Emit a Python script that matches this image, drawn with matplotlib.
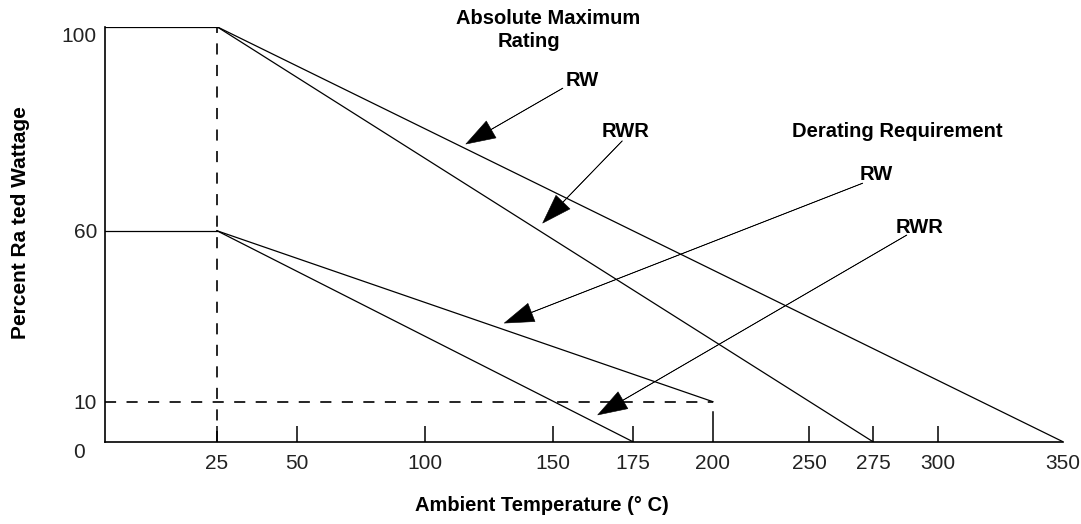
import numpy as np
import matplotlib
matplotlib.use("Agg")
import matplotlib.pyplot as plt

# derating curves (temperature in deg C, percent of rated wattage)
flat_x = [0, 25]
abs_level = [100, 100]
der_level = [60, 60]

abs_rw_x = [25, 350]
abs_rw_y = [100, 0]
abs_rwr_x = [25, 275]
abs_rwr_y = [100, 0]

der_rw_x = [25, 200]
der_rw_y = [60, 10]
der_rwr_x = [25, 175]
der_rwr_y = [60, 0]

guide_v_x = [25, 25]
guide_v_y = [0, 100]
guide_h_x = [0, 200]
guide_h_y = [10, 10]
drop_x = [200, 200]
drop_y = [0, 7.5]

x_ticks = [25, 50, 100, 150, 175, 200, 250, 275, 300, 350]
y_ticks = [10, 60, 100]

# arrow tips for the RW / RWR callouts
tips = [(116, 77), (146, 61.5), (131, 33), (164, 6.7)]

# the drawing's axes are not evenly spaced, so use a piecewise scale
x_knots = [0, 25, 50, 100, 150, 175, 200, 250, 275, 300, 350]
x_frac = [0, 0.1169, 0.2004, 0.3340, 0.4676, 0.5511, 0.6347, 0.7349, 0.8017, 0.8695, 1.0]
y_knots = [0, 10, 60, 100]
y_frac = [0, 0.0964, 0.5084, 1.0]


def piecewise(knots, frac):
    fwd = lambda v: np.interp(v, knots, frac)
    inv = lambda v: np.interp(v, frac, knots)
    return fwd, inv


plt.rcParams["font.family"] = ["Liberation Sans", "DejaVu Sans"]
plt.rcParams["lines.scale_dashes"] = False

fig = plt.figure(figsize=(10.81, 5.24), dpi=100)
ax = fig.add_axes([0.0971, 0.157, 0.8862, 0.792])
ax.set_xscale("function", functions=piecewise(x_knots, x_frac))
ax.set_yscale("function", functions=piecewise(y_knots, y_frac))
ax.set_xlim(0, 350)
ax.set_ylim(0, 100)

lw = 0.9
ax.plot(flat_x, abs_level, color="black", lw=lw)
ax.plot(flat_x, der_level, color="black", lw=lw)
ax.plot(abs_rw_x, abs_rw_y, color="black", lw=lw)
ax.plot(abs_rwr_x, abs_rwr_y, color="black", lw=lw)
ax.plot(der_rw_x, der_rw_y, color="black", lw=lw)
ax.plot(der_rwr_x, der_rwr_y, color="black", lw=lw)
ax.plot(guide_v_x, guide_v_y, color="black", lw=1.2, dashes=(8, 7.5))
ax.plot(guide_h_x, guide_h_y, color="black", lw=1.2, dashes=(8, 7.5))
ax.plot(drop_x, drop_y, color="black", lw=1.1)

for s in ["top", "right"]:
    ax.spines[s].set_visible(False)
for s in ["left", "bottom"]:
    ax.spines[s].set_linewidth(1.2)

ax.set_xticks(x_ticks)
ax.set_xticklabels([str(t) for t in x_ticks])
ax.set_yticks(y_ticks)
ax.set_yticklabels([str(t) for t in y_ticks])
ax.minorticks_off()
ax.tick_params(axis="x", direction="in", length=11.5, width=1.1, pad=8.5, labelsize=15,
               labelcolor="#222222")
ax.tick_params(axis="y", length=0, pad=5.8, labelsize=15, labelcolor="#222222")
for t, v in zip(ax.xaxis.get_major_ticks(), x_ticks):
    if v in (200, 350):
        t.tick1line.set_visible(False)
ax.get_yticklabels()[-1].set_va("top")
ax.text(-0.027, -0.027, "0", transform=ax.transAxes, ha="center", va="center",
        fontsize=15, color="#222222")

bold = dict(fontsize=14.5, fontweight="bold", transform=ax.transAxes, va="baseline")
ax.text(0.4624, 1.0077, "Absolute Maximum", ha="center", **bold)
ax.text(0.4102, 0.951, "Rating", ha="left", **bold)
ax.text(0.8267, 0.734, "Derating Requirement", ha="center", **bold)

labels = ["RW", "RWR", "RW", "RWR"]
label_pos = [(0.4812, 0.857), (0.5188, 0.734), (0.7881, 0.6306), (0.8257, 0.5029)]
tails = [(0.478, 0.852), (0.540, 0.725), (0.791, 0.623), (0.837, 0.498)]
for name, lp, tail, tip in zip(labels, label_pos, tails, tips):
    ax.text(lp[0], lp[1], name, ha="left", **bold)
    ax.annotate("", xy=tip, xycoords="data", xytext=tail, textcoords="axes fraction",
                arrowprops=dict(facecolor="black", edgecolor="black", linewidth=0.4,
                                width=0.3, headwidth=14, headlength=21, shrink=0))

ax.set_xlabel("Ambient Temperature (° C)", fontsize=14.5, fontweight="bold")
ax.xaxis.set_label_coords(0.456, -0.13)
ax.set_ylabel("Percent Ra ted Wattage", fontsize=15, fontweight="bold")
ax.yaxis.set_label_coords(-0.078, 0.527)

fig.savefig("out.png", dpi=100)
